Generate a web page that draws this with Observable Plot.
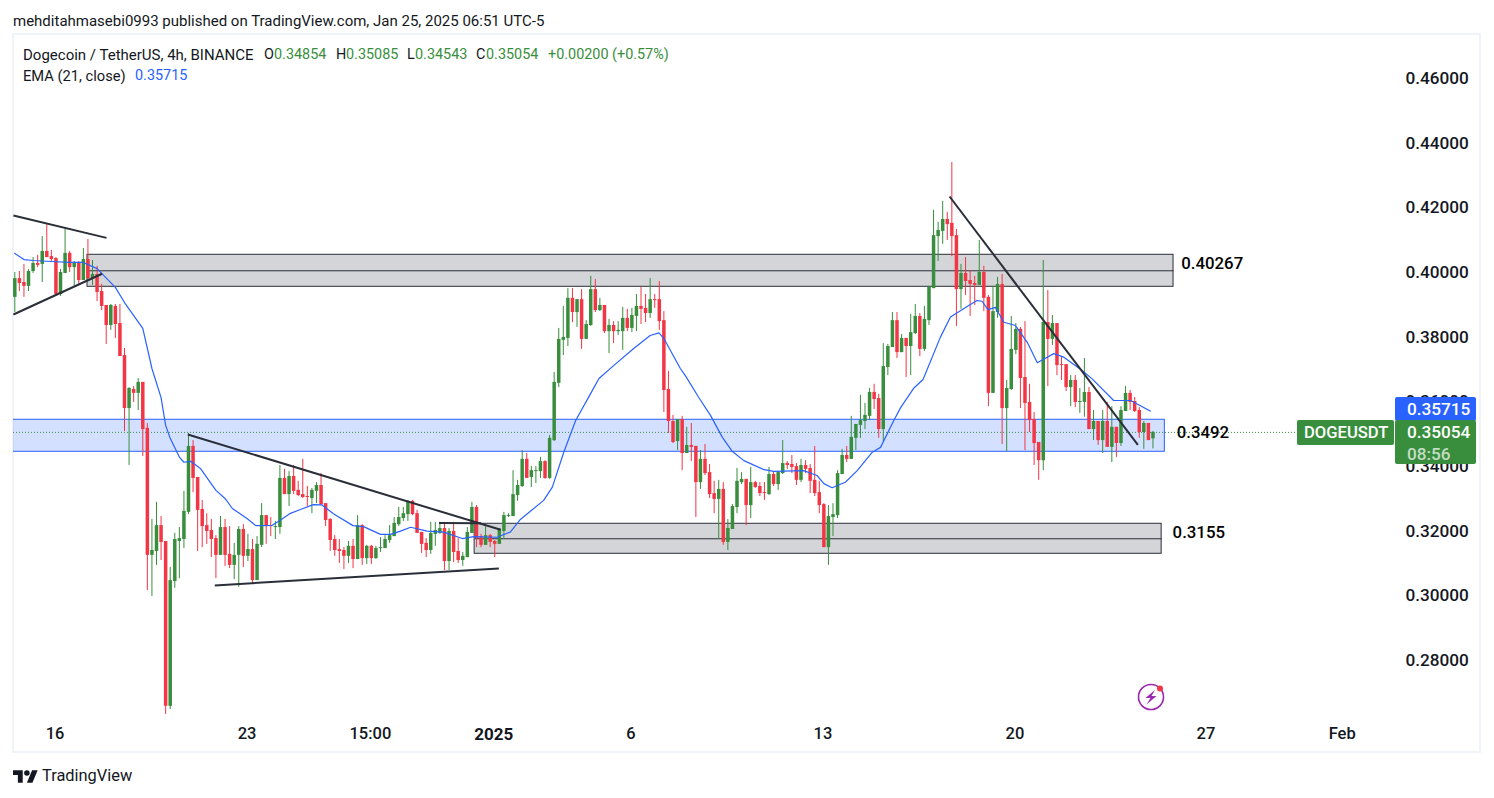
<!DOCTYPE html>
<html>
<head>
<meta charset="utf-8">
<script src="https://cdn.jsdelivr.net/npm/d3@7"></script>
<script src="https://cdn.jsdelivr.net/npm/@observablehq/plot@0.6"></script>
<style>
html,body{margin:0;padding:0;background:#fff;width:1494px;height:798px;overflow:hidden}
#page{position:relative;width:1494px;height:798px;font-family:Roboto,sans-serif;color:#131722}
#frame{position:absolute;left:12px;top:33px;width:1465px;height:716px;border:2px solid #f0f3fa}
#chart{position:absolute;left:13px;top:36px}
.t{position:absolute;white-space:nowrap;font-size:14.4px;line-height:18px}
.w{font-size:15px}
.g{color:#388e3c}.b{color:#2962ff}
.badge{position:absolute;color:#fff;font-size:17.2px;font-weight:500;border-radius:2px;box-sizing:border-box;text-align:left;padding-left:12px}
</style>
</head>
<body>
<div id="page">
<div id="frame"></div>
<div id="chart"></div>
<div class="t w" style="left:13px;top:12px">mehditahmasebi0993 published on TradingView.com, Jan 25, 2025 06:51 UTC-5</div>
<div class="t w" style="left:23px;top:46px">Dogecoin / TetherUS, 4h, BINANCE</div>
<div class="t" style="left:264px;top:46px">O</div><div class="t g" style="left:274px;top:46px">0.34854</div>
<div class="t" style="left:336px;top:46px">H</div><div class="t g" style="left:346px;top:46px">0.35085</div>
<div class="t" style="left:407px;top:46px">L</div><div class="t g" style="left:415px;top:46px">0.34543</div>
<div class="t" style="left:476px;top:46px">C</div><div class="t g" style="left:486px;top:46px">0.35054</div>
<div class="t g" style="left:548px;top:46px">+0.00200 (+0.57%)</div>
<div class="t" style="left:23px;top:67px;font-size:14.7px">EMA (21, close)</div><div class="t b" style="left:135px;top:67px">0.35715</div>
<svg style="position:absolute;left:13px;top:769px" width="25" height="15" viewBox="0 4 36 18"><path fill="#131722" d="M14 22H7V11H0V4h14v18zM28 22h-8l7.5-18h8L28 22z"/><circle cx="20" cy="8" r="4" fill="#131722"/></svg>
<div class="t" style="left:42px;top:767px;font-size:16.4px">TradingView</div>
<svg style="position:absolute;left:1136px;top:682px" width="30" height="30" viewBox="0 0 30 30">
<circle cx="15" cy="15" r="12.5" fill="none" stroke="#9c27b0" stroke-width="1.6"/>
<path d="M19 8 L9.5 16 L14.5 16 L10.5 22.5 L20.5 14 L15.5 14 Z" fill="#9c27b0"/>
<circle cx="24" cy="6.5" r="3" fill="#f23645"/>
</svg>
</div>
<script>
// Prices in 1/10000 USDT, one entry per 4h candle
const opens=[3923,3981,3969,3957,4003,4028,4025,4065,4049,4043,
3932,3997,4059,4015,4031,3975,4040,3981,3994,3941,
3898,3836,3895,3842,3743,3579,3638,3626,3660,3518,
3125,3137,3217,3168,2658,3044,3168,3174,3258,3462,
3366,3267,3217,3202,3177,3125,3211,3128,3094,3125,
3205,3122,3143,3047,3156,3248,3217,3211,3211,3363,
3313,3369,3326,3313,3307,3301,3323,3341,3285,3236,
3174,3143,3140,3122,3153,3112,3217,3115,3153,3115,
3146,3146,3171,3183,3220,3239,3251,3292,3254,3196,
3162,3140,3190,3193,3208,3106,3199,3137,3109,3118,
3193,3273,3183,3156,3186,3168,3159,3199,3245,3245,
3310,3338,3422,3366,3384,3384,3415,3363,3480,3657,
3790,3796,3920,3876,3916,3793,3836,3947,3882,3898,
3817,3836,3817,3817,3858,3827,3864,3895,3889,3873,
3916,3916,3851,3638,3539,3477,3545,3440,3465,3462,
3350,3422,3381,3316,3298,3329,3165,3205,3273,3350,
3360,3279,3350,3338,3319,3313,3375,3344,3378,3409,
3406,3400,3357,3403,3394,3357,3319,3282,3149,3242,
3248,3375,3434,3422,3487,3527,3539,3555,3629,3610,
3514,3706,3768,3851,3752,3796,3771,3811,3864,3762,
3851,3950,4111,4127,4164,4152,4114,3947,3997,3975,
3966,3960,4000,3923,3626,3876,3963,3579,3638,3759,
3824,3675,3598,3545,3474,3418,3845,3793,3842,3715,
3715,3644,3666,3598,3598,3629,3514,3539,3480,3539,
3459,3521,3471,3570,3626,3601,3573,3505,3533,3485.4];
const highs=[4000,4003,4025,4009,4046,4053,4111,4148,4068,4046,
4009,4139,4065,4034,4034,4074,4102,4037,4019,3963,
3898,3901,3901,3901,3765,3644,3647,3672,3660,3533,
3236,3289,3245,3168,3088,3193,3211,3323,3502,3480,
3366,3295,3254,3236,3186,3245,3236,3214,3162,3214,
3220,3190,3174,3183,3285,3248,3242,3230,3403,3391,
3384,3403,3354,3422,3338,3332,3350,3378,3285,3239,
3186,3174,3149,3168,3174,3248,3220,3156,3156,3153,
3180,3186,3217,3242,3273,3273,3295,3295,3264,3196,
3177,3227,3227,3227,3227,3208,3227,3177,3134,3211,
3289,3279,3190,3214,3190,3171,3208,3258,3254,3387,
3357,3449,3440,3400,3400,3428,3418,3496,3691,3827,
3895,3950,3950,3916,3947,3851,3988,3978,3920,3898,
3855,3848,3848,3892,3886,3889,3932,3954,3932,3981,
3932,3972,3879,3694,3558,3545,3555,3521,3533,3462,
3449,3468,3406,3354,3357,3350,3236,3282,3394,3381,
3360,3397,3354,3350,3350,3397,3384,3384,3480,3415,
3434,3409,3422,3418,3406,3462,3354,3285,3279,3285,
3387,3453,3462,3555,3530,3620,3595,3641,3654,3623,
3780,3777,3876,3876,3808,3796,3870,3901,3873,3895,
3957,4192,4155,4220,4186,4340,4133,4025,4046,4006,
3988,4099,4019,3929,3957,3985,3994,3666,3864,3842,
3830,3848,3654,3567,3474,4037,3944,3867,3842,3737,
3715,3681,3681,3641,3734,3644,3573,3539,3573,3598,
3585,3521,3585,3647,3635,3613,3582,3539,3533,3508.5];
const lows=[3876,3941,3923,3941,3997,4015,3969,4046,4031,3926,
3926,3997,4000,3957,3963,3975,3975,3960,3910,3882,
3777,3821,3796,3740,3508,3403,3598,3573,3431,3016,
2998,3094,3109,2633,2648,3023,3053,3146,3251,3319,
3137,3149,3159,3118,3053,3125,3091,3084,3050,3026,
3088,3106,3035,3047,3149,3159,3183,3174,3190,3313,
3276,3313,3307,3301,3276,3254,3285,3279,3214,3137,
3122,3100,3081,3100,3084,3112,3094,3097,3097,3112,
3134,3146,3162,3183,3214,3230,3230,3248,3193,3131,
3118,3128,3153,3190,3078,3078,3103,3100,3091,3118,
3193,3149,3149,3156,3149,3118,3159,3174,3242,3245,
3292,3335,3363,3335,3347,3363,3360,3360,3477,3644,
3743,3771,3845,3830,3762,3793,3833,3876,3879,3811,
3749,3780,3805,3759,3817,3814,3817,3839,3845,3858,
3889,3821,3567,3502,3471,3449,3387,3440,3415,3242,
3329,3372,3301,3254,3174,3156,3140,3205,3254,3344,
3217,3239,3332,3307,3295,3310,3338,3326,3375,3391,
3378,3341,3350,3378,3316,3307,3254,3149,3094,3183,
3239,3375,3412,3422,3449,3487,3514,3542,3576,3487,
3477,3681,3768,3734,3752,3675,3681,3808,3740,3756,
3836,3950,4034,4087,4099,4049,3833,3886,3929,3864,
3898,3960,3879,3585,3626,3858,3468,3446,3635,3746,
3579,3449,3505,3403,3357,3387,3647,3774,3681,3666,
3632,3585,3582,3564,3552,3514,3480,3465,3440,3459,
3412,3428,3462,3570,3573,3567,3487,3453,3480,3454.3];
const closes=[3981,3966,3957,4003,4028,4022,4065,4046,4040,3932,
4000,4059,4015,4031,3975,4040,3981,3994,3938,3895,
3836,3898,3839,3740,3579,3641,3626,3660,3514,3125,
3140,3217,3165,2658,3047,3174,3177,3261,3462,3363,
3264,3214,3199,3174,3125,3211,3125,3094,3125,3205,
3122,3143,3047,3159,3248,3214,3214,3214,3363,3313,
3369,3323,3310,3304,3304,3326,3341,3282,3233,3171,
3140,3137,3122,3153,3112,3217,3115,3153,3115,3146,
3149,3174,3186,3224,3242,3254,3292,3251,3193,3159,
3140,3193,3202,3208,3106,3199,3134,3109,3122,3196,
3273,3177,3156,3186,3165,3159,3205,3248,3248,3313,
3341,3422,3363,3387,3387,3415,3363,3487,3660,3793,
3799,3920,3876,3916,3793,3839,3947,3882,3898,3817,
3836,3817,3821,3858,3827,3867,3895,3886,3873,3916,
3913,3848,3635,3539,3474,3545,3440,3465,3459,3350,
3422,3378,3313,3298,3329,3165,3208,3276,3354,3360,
3279,3350,3335,3316,3316,3375,3344,3381,3409,3403,
3397,3357,3403,3391,3354,3316,3279,3149,3245,3251,
3378,3434,3422,3490,3530,3542,3558,3629,3607,3514,
3709,3771,3851,3752,3796,3771,3814,3864,3762,3855,
3954,4114,4130,4164,4148,4111,3947,3997,3972,3963,
3960,4000,3920,3626,3879,3963,3579,3641,3762,3824,
3672,3595,3542,3471,3418,3845,3793,3842,3712,3712,
3644,3666,3598,3601,3629,3514,3539,3480,3539,3459,
3521,3471,3573,3626,3598,3570,3505,3533,3480,3505.4];
// EMA(21): candle position, price
const emaAt=[0,2,4,8,12,15,18,22,24,28,30,32,33,34,36,37,38.5,40.6,44,46,47.6,50.8,52.7,56.3,58,60.3,62.5,65.3,67.2,69.7,74,76.3,80,82.2,84.4,86.6,90.2,93.8,97.9,100.4,105.5,108.4,110.6,115.7,117.6,120.1,122.7,126,127.8,131,135.4,139,140.9,142,145.6,146.7,149.6,152.2,154.8,157,159.5,163.9,166,172.6,175.5,177,178.8,181.7,184.3,187.6,189.4,192.3,193.8,196.6,198.7,202.5,204.7,208.7,210.5,211.6,212.9,214.5,216.4,218.9,221.5,223.7,227.3,229.5,233.5,235.7,240.4,244.1,248.4];
const emaVal=[4059,4040,4037,4034,4031,4031,4012,3954,3907,3827,3703,3613,3527,3487,3429,3413,3416,3394,3326,3301,3270,3239,3217,3218,3233,3255,3267,3282,3281,3254,3217,3214,3190,3190,3200,3212,3200,3197,3177,3183,3181,3197,3236,3295,3336,3444,3542,3626,3672,3712,3765,3805,3813,3796,3703,3681,3614,3558,3490,3446,3418,3390,3385,3387,3372,3347,3334,3351,3387,3444,3459,3542,3582,3641,3669,3800,3862,3898,3913,3911,3885,3892,3846,3836,3784,3721,3749,3738,3697,3671,3604,3604,3571.5];
// Price zones: start candle, end candle, top, bottom, middle
const greyZones=[[15.9,253.5,4054.7,3955.7,4005.2],[100.6,250.9,3222.7,3129.9,3176.3]];
const blueZone=[-5,251.6,3544.4,3445.4];
// Hand-drawn trendlines: candle1, price1, candle2, price2
const trendlines=[[-0.3,4176,20.06,4107],[-0.3,3870,19.1,3996],[37.85,3499,106.3,3204],[43.75,3032,105.9,3084],[92.8,3225,102,3224],[204.5,4235,245.7,3467]];
// Annotations beside the zones: text, candle, price level it is drawn at
const zoneLabels=[["0.40267",255.2,4026.7],["0.3492",254.2,3505],["0.3155",253.3,3196]];
const yTicks=[0.28,0.30,0.32,0.34,0.36,0.38,0.40,0.42,0.44,0.46];
const xTicks=[[8.8,"16"],[50.8,"23"],[77.8,"15:00"],[134.8,"6"],[176.8,"13"],[218.8,"20"],[260.6,"27"],[290.4,"Feb"]];
const xTicksBold=[[104.8,"2025"]];
const lastClose=0.35054, lastEma=0.35715;

const P=v=>v/1e4;
const t0=Date.UTC(2024,11,16), H4=4*3600e3;
const T=i=>new Date(t0+(i-9)*H4);   // candle 9 opens on 16 Dec
const candles=opens.map((o,i)=>({date:T(i),open:P(o),high:P(highs[i]),low:P(lows[i]),close:P(closes[i])}));
const up=candles.filter(d=>d.close>=d.open), down=candles.filter(d=>d.close<d.open);
const ema=emaAt.map((a,i)=>({date:T(a),v:P(emaVal[i])}));
const RED="#f23645",GREEN="#388e3c",BLUE="#2962ff",DARK="#2a2e39";
const FONT="Roboto, sans-serif";
const tickLabel=new Map([...xTicks,...xTicksBold].map(([i,s])=>[+T(i),s]));
const fmtX=d=>tickLabel.get(+d)||"";

const rects=(rows,opt)=>Plot.rect(rows,{x1:d=>T(d[0]),x2:d=>T(d[1]),y1:d=>P(d[2]),y2:d=>P(d[3]),clip:true,...opt});
const chart=Plot.plot({
  width:1467,height:716,marginLeft:0,marginRight:85,marginTop:0,marginBottom:34,
  style:{background:"transparent",overflow:"visible",color:"#131722"},
  x:{type:"utc",domain:[T(-0.284),T(302.06)]},
  y:{domain:[0.26204,0.47299]},
  marks:[
    rects([blueZone],{fill:BLUE,fillOpacity:0.2,stroke:BLUE,strokeWidth:1}),
    rects(greyZones,{fill:"#787b86",fillOpacity:0.32,stroke:DARK,strokeWidth:1}),
    Plot.link(greyZones,{x1:d=>T(d[0]),x2:d=>T(d[1]),y1:d=>P(d[4]),y2:d=>P(d[4]),stroke:DARK,strokeWidth:1}),
    Plot.ruleY([lastClose],{stroke:GREEN,strokeDasharray:"1 2"}),
    Plot.ruleX(up,{x:"date",y1:"low",y2:"high",stroke:GREEN,strokeWidth:1}),
    Plot.ruleX(down,{x:"date",y1:"low",y2:"high",stroke:RED,strokeWidth:1}),
    Plot.ruleX(up,{x:"date",y1:"open",y2:"close",stroke:GREEN,strokeWidth:3.5}),
    Plot.ruleX(down,{x:"date",y1:"open",y2:"close",stroke:RED,strokeWidth:3.5}),
    Plot.line(ema,{x:"date",y:"v",stroke:BLUE,strokeWidth:1.2}),
    Plot.link(trendlines,{x1:d=>T(d[0]),y1:d=>P(d[1]),x2:d=>T(d[2]),y2:d=>P(d[3]),stroke:DARK,strokeWidth:2,clip:true}),
    Plot.text(zoneLabels,{x:d=>T(d[1]),y:d=>P(d[2]),text:d=>d[0],textAnchor:"start",fontSize:16.8,fontWeight:500,fontFamily:FONT,fill:"#000"}),
    Plot.axisY({anchor:"right",ticks:yTicks,tickSize:0,tickPadding:10,tickFormat:d3.format(".5f"),fontSize:17.2,fontWeight:500,fontFamily:FONT,label:null}),
    Plot.axisX({ticks:xTicks.map(d=>T(d[0])),tickFormat:fmtX,tickSize:0,tickPadding:9,fontSize:16.5,fontWeight:500,fontFamily:FONT,label:null}),
    Plot.axisX({ticks:xTicksBold.map(d=>T(d[0])),tickFormat:fmtX,tickSize:0,tickPadding:9,fontSize:17,fontWeight:"bold",fontFamily:FONT,label:null})
  ]
});
document.getElementById("chart").append(chart);
// Price badges over the axis, positioned through the y scale
const py=v=>36+chart.scale("y").apply(v);
const page=document.getElementById("page");
function badge(text,l,w,top,h,bg,extra){const b=document.createElement("div");b.className="badge";b.style.cssText=`left:${l}px;width:${w}px;top:${top}px;height:${h}px;background:${bg};${extra||""}`;b.innerHTML=text;page.append(b);}
badge("0.35715",1395,81,py(lastEma)-14,24,BLUE,"line-height:24px;");
badge(`<div style="line-height:24px">0.35054</div><div style="line-height:20px;color:#c3ddc4">08:56</div>`,1395,81,py(lastClose)-12,44,GREEN);
badge("DOGEUSDT",1297,97,py(lastClose)-12,25,GREEN,"line-height:25px;font-size:16.6px;padding-left:7px;");
</script>
</body>
</html>
